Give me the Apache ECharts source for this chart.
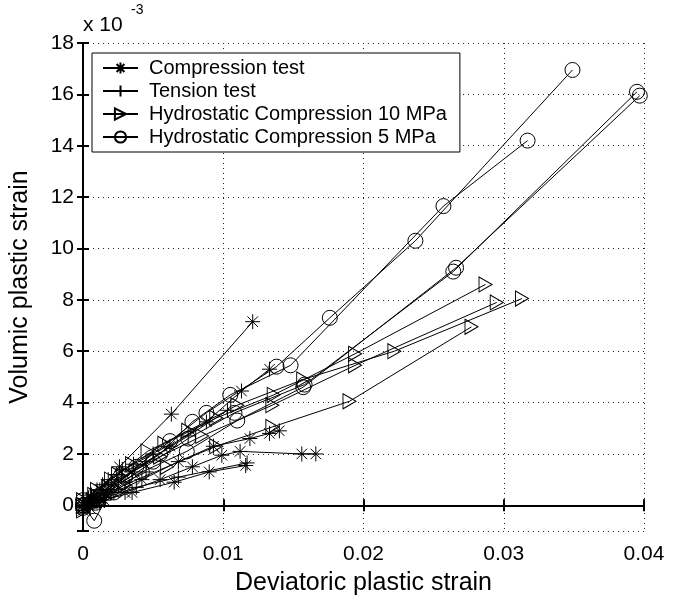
<!DOCTYPE html>
<html>
<head>
<meta charset="utf-8">
<script src="https://cdn.jsdelivr.net/npm/echarts@6/dist/echarts.min.js"></script>
<style>
  html, body { margin: 0; padding: 0; background: #fff; }
  #chart { width: 692px; height: 601px; }
</style>
</head>
<body>
<div id="chart"></div>
<script>
// values; y is in units of 1e-3
const xTicks = [0, 0.01, 0.02, 0.03, 0.04];
const yTicks = [0, 2, 4, 6, 8, 10, 12, 14, 16, 18];

const comp1 = [[0, 0], [0.0003, 0.1], [0.0006, 0.3], [0.0012, 0.6], [0.0026, 1.5], [0.0063, 3.55], [0.0121, 7.15]];
const comp2 = [[0, -0.1], [0.0004, 0.0], [0.0008, 0.2], [0.0018, 0.6], [0.0035, 1.3], [0.0062, 2.3], [0.0088, 3.25], [0.0113, 4.45], [0.0133, 5.3]];
const comp3 = [[0, 0.1], [0.001, 0.2], [0.0022, 0.5], [0.0042, 1.0], [0.0068, 1.7], [0.0093, 2.3], [0.0119, 2.6], [0.0133, 2.8], [0.014, 2.9]];
const comp4 = [[0, -0.2], [0.0005, -0.1], [0.0012, 0.1], [0.003, 0.5], [0.0055, 1.0], [0.0078, 1.5], [0.0099, 1.95], [0.0112, 2.1], [0.0156, 2.0], [0.0166, 2.0]];
const comp5 = [[0, 0], [0.0007, 0.1], [0.0015, 0.2], [0.0035, 0.5], [0.0065, 0.9], [0.009, 1.3], [0.0116, 1.55]];

const tens1 = [[0, 0], [0.0004, 0.3], [0.001, 0.6], [0.0018, 1.0], [0.0028, 1.4]];
const tens2 = [[0, -0.3], [0.0005, -0.1], [0.0012, 0.2], [0.002, 0.5], [0.003, 0.9], [0.0045, 1.3]];
const tens3 = [[0, 0.2], [0.0006, 0.4], [0.0014, 0.8], [0.0024, 1.2], [0.0036, 1.6], [0.005, 2.0]];
const tens4 = [[0, 0], [0.002, 0.8], [0.0045, 1.7], [0.0075, 2.7], [0.0103, 3.7]];
const tens5 = [[0, -0.1], [0.0016, 0.3], [0.0038, 0.7], [0.0068, 1.1], [0.0117, 1.65]];

const hyd10a = [[0, 0], [0.0008, 0.4], [0.002, 1.0], [0.0035, 1.6], [0.0058, 2.4], [0.0095, 3.4], [0.0136, 4.3], [0.0194, 5.9], [0.0287, 8.6]];
const hyd10b = [[0, 0.2], [0.001, 0.6], [0.0025, 1.2], [0.0046, 2.1], [0.0075, 2.9], [0.011, 3.9], [0.0157, 4.9], [0.0222, 6.0], [0.0313, 8.05]];
const hyd10c = [[0, -0.2], [0.0007, 0.2], [0.0018, 0.7], [0.0032, 1.2], [0.0055, 1.9], [0.0085, 2.7], [0.0135, 3.9], [0.0194, 5.45], [0.0295, 7.9]];
const hyd10d = [[0, 0], [0.0012, 0.3], [0.003, 0.8], [0.006, 1.5], [0.0095, 2.3], [0.0135, 3.05], [0.019, 4.05], [0.0277, 6.95]];

const hyd5a = [[0, 0], [0.0008, -0.6], [0.002, 0.6], [0.0038, 1.5], [0.0062, 2.5], [0.0088, 3.6], [0.0138, 5.4], [0.0176, 7.3], [0.0237, 10.3], [0.0349, 16.95]];
const hyd5b = [[0, 0.2], [0.0012, 0.4], [0.003, 1.1], [0.0055, 2.0], [0.0078, 3.25], [0.0105, 4.3], [0.0148, 5.45], [0.0257, 11.65], [0.0317, 14.2]];
const hyd5c = [[0, -0.1], [0.0011, 0.2], [0.0028, 0.9], [0.005, 1.7], [0.0075, 2.6], [0.0108, 3.6], [0.0158, 4.7], [0.0264, 9.1], [0.0395, 16.1]];
const hyd5d = [[0, 0], [0.0009, 0.1], [0.0022, 0.5], [0.0042, 1.3], [0.0074, 2.1], [0.011, 3.3], [0.0157, 4.6], [0.0266, 9.25], [0.0397, 15.95]];

const groups = [
  { name: 'Compression test', lines: [comp1, comp2, comp3, comp4, comp5],
    symbol: 'path://M0,-10L0,10M-10,0L10,0M-7,-7L7,7M-7,7L7,-7', size: 15 },
  { name: 'Tension test', lines: [tens1, tens2, tens3, tens4, tens5],
    symbol: 'path://M0,-10L0,10M-10,0L10,0', size: 15 },
  { name: 'Hydrostatic Compression 10 MPa', lines: [hyd10a, hyd10b, hyd10c, hyd10d],
    symbol: 'path://M-8,-10L10,0L-8,10Z', size: [13, 15] },
  { name: 'Hydrostatic Compression 5 MPa', lines: [hyd5a, hyd5b, hyd5c, hyd5d],
    symbol: 'circle', size: 15 }
];

const font = '"Liberation Sans", Arial, Helvetica, sans-serif';

const series = [];
groups.forEach(g => {
  g.lines.forEach(line => {
    series.push({
      name: g.name,
      type: 'line',
      data: line,
      symbol: g.symbol,
      symbolSize: g.size,
      showAllSymbol: true,
      animation: false,
      lineStyle: { color: '#000', width: 1 },
      itemStyle: { color: 'rgba(0,0,0,0)', borderColor: '#000', borderWidth: 1 },
      emphasis: { disabled: true }
    });
  });
});

const chart = echarts.init(document.getElementById('chart'));

const dotted = { show: true, lineStyle: { color: '#222', type: [1, 4], width: 1 } };

chart.setOption({
  backgroundColor: '#fff',
  animation: false,
  textStyle: { fontFamily: font },
  grid: { left: 83, right: 48, top: 43, bottom: 69 },
  legend: {
    data: groups.map(g => g.name),
    orient: 'vertical',
    left: 92,
    top: 53,
    padding: [5, 13, 5, 10],
    itemWidth: 35,
    itemHeight: 14,
    itemGap: 3,
    backgroundColor: '#fff',
    borderColor: '#000',
    borderWidth: 1,
    selectedMode: false,
    textStyle: { fontSize: 20, color: '#000', lineHeight: 20, padding: [0, 0, 0, 6], fontFamily: font }
  },
  graphic: [
    { type: 'text', left: 83, top: 15, style: { text: 'x 10', fill: '#000', font: '21px ' + font } },
    { type: 'text', left: 131, top: 3, style: { text: '-3', fill: '#000', font: '14px ' + font } }
  ],
  xAxis: [{
    type: 'value',
    min: 0,
    max: 0.04,
    interval: 0.01,
    name: 'Deviatoric plastic strain',
    nameLocation: 'middle',
    nameGap: 40,
    nameTextStyle: { fontSize: 25, color: '#000', fontFamily: font },
    axisLine: { show: true, lineStyle: { color: '#000', width: 2 } },
    axisTick: { show: true, inside: true, length: 6, lineStyle: { color: '#000', width: 2 } },
    axisLabel: { fontSize: 21, color: '#000', margin: 13, formatter: v => xTicks.includes(+v.toFixed(2)) ? String(+v.toFixed(2)) : '' },
    splitLine: dotted
  }, {
    type: 'value',
    position: 'top',
    min: 0,
    max: 0.04,
    interval: 0.01,
    axisLine: { show: true, lineStyle: { color: '#000', width: 2 } },
    axisTick: { show: true, inside: true, length: 6, lineStyle: { color: '#000', width: 2 } },
    axisLabel: { show: false },
    splitLine: { show: false }
  }],
  yAxis: [{
    type: 'value',
    min: -1,
    max: 18,
    splitNumber: 10,
    minInterval: 2,
    maxInterval: 2,
    name: 'Volumic plastic strain',
    nameLocation: 'middle',
    nameGap: 50,
    nameTextStyle: { fontSize: 25, color: '#000', fontFamily: font },
    axisLine: { show: true, lineStyle: { color: '#000', width: 2 } },
    axisTick: { show: true, inside: true, length: 6, lineStyle: { color: '#000', width: 2 } },
    axisLabel: { fontSize: 21, color: '#000', margin: 9, formatter: v => yTicks.includes(v) ? String(v) : '' },
    splitLine: dotted
  }, {
    type: 'value',
    position: 'right',
    min: -1,
    max: 18,
    splitNumber: 10,
    minInterval: 2,
    maxInterval: 2,
    axisLine: { show: true, lineStyle: { color: '#000', width: 2 } },
    axisTick: { show: true, inside: true, length: 6, lineStyle: { color: '#000', width: 2 } },
    axisLabel: { show: false },
    splitLine: { show: false }
  }],
  series: series
});
</script>
</body>
</html>
